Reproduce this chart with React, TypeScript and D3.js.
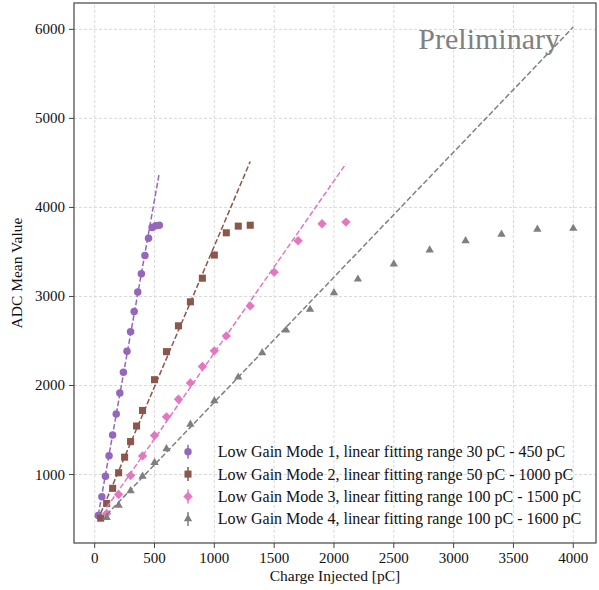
import React from 'react';
import * as d3 from 'd3';

// Low Gain Mode 1..4: injected charge [pC] and ADC mean value
const charge1 = [30, 60, 90, 120, 150, 180, 210, 240, 270, 300, 330, 360, 390, 420, 450, 480, 510, 540];
const adc1 = [540, 750, 980, 1210, 1445, 1680, 1915, 2150, 2385, 2605, 2830, 3050, 3255, 3460, 3655, 3775, 3795, 3800];

const charge2 = [50, 100, 150, 200, 250, 300, 350, 400, 500, 600, 700, 800, 900, 1000, 1100, 1200, 1300];
const adc2 = [510, 675, 845, 1020, 1195, 1370, 1545, 1720, 2065, 2380, 2670, 2940, 3205, 3465, 3715, 3790, 3800];

const charge3 = [100, 200, 300, 400, 500, 600, 700, 800, 900, 1000, 1100, 1300, 1500, 1700, 1900, 2100];
const adc3 = [562, 775, 989, 1209, 1438, 1648, 1846, 2029, 2213, 2389, 2557, 2894, 3273, 3625, 3816, 3835];

const charge4 = [100, 200, 300, 400, 500, 600, 800, 1000, 1200, 1400, 1600, 1800, 2000, 2200, 2500, 2800, 3100, 3400, 3700, 4000];
const adc4 = [517, 655, 816, 981, 1135, 1288, 1565, 1827, 2093, 2366, 2621, 2854, 3040, 3194, 3363, 3520, 3625, 3697, 3753, 3764];

// linear fitting ranges [pC]
const fitRanges = [[30, 450], [50, 1000], [100, 1500], [100, 1600]];

const labels = [
  'Low Gain Mode 1, linear fitting range 30 pC - 450 pC',
  'Low Gain Mode 2, linear fitting range 50 pC - 1000 pC',
  'Low Gain Mode 3, linear fitting range 100 pC - 1500 pC',
  'Low Gain Mode 4, linear fitting range 100 pC - 1600 pC',
];

const xTicks = [0, 500, 1000, 1500, 2000, 2500, 3000, 3500, 4000];
const yTicks = [1000, 2000, 3000, 4000, 5000, 6000];

const colors = ['#9467bd', '#8c564b', '#e377c2', '#7f7f7f'];

const W = 599, H = 590;
const margin = { left: 74, right: 3, top: 3, bottom: 47 };
const font = '"Liberation Serif", "Times New Roman", serif';

// least squares over the fitting range
function linFit(xs: number[], ys: number[], lo: number, hi: number) {
  const pts = xs.map((x, i) => [x, ys[i]]).filter(p => p[0] >= lo && p[0] <= hi);
  const mx = d3.mean(pts, p => p[0])!;
  const my = d3.mean(pts, p => p[1])!;
  const sxy = d3.sum(pts, p => (p[0] - mx) * (p[1] - my));
  const sxx = d3.sum(pts, p => (p[0] - mx) ** 2);
  const m = sxy / sxx;
  return { m, b: my - m * mx };
}

const App = () => {
  const x = d3.scaleLinear().domain([-173, 4190]).range([margin.left, W - margin.right]);
  const y = d3.scaleLinear().domain([231, 6296]).range([H - margin.bottom, margin.top]);

  const series = [
    { xs: charge1, ys: adc1 },
    { xs: charge2, ys: adc2 },
    { xs: charge3, ys: adc3 },
    { xs: charge4, ys: adc4 },
  ];

  const symbols = [
    d3.symbol(d3.symbolCircle, 44)(),
    d3.symbol(d3.symbolSquare, 50)(),
    d3.symbol(d3.symbolSquare, 44)(),
    d3.symbol(d3.symbolTriangle, 30)(),
  ];
  const rot = [0, 0, 45, 0];

  const line = d3.line<number[]>().x(d => x(d[0])).y(d => y(d[1]));

  const x0 = margin.left, x1 = W - margin.right;
  const y0 = H - margin.bottom, y1 = margin.top;

  return (
    <svg width={W} height={H} style={{ position: 'absolute', left: 0, top: 0, background: '#fff' }}
      fontFamily={font}>
      {/* grid */}
      <g stroke="#cfcfcf" strokeWidth={0.8} strokeDasharray="3,2">
        {xTicks.map(t => <line key={'gx' + t} x1={x(t)} x2={x(t)} y1={y0} y2={y1} />)}
        {yTicks.map(t => <line key={'gy' + t} x1={x0} x2={x1} y1={y(t)} y2={y(t)} />)}
      </g>

      {/* markers */}
      {series.map((s, i) => (
        <g key={'m' + i} fill={colors[i]}>
          {s.xs.map((cx, j) => (
            <path key={j} d={symbols[i]!}
              transform={`translate(${x(cx)},${y(s.ys[j])}) rotate(${rot[i]})`} />
          ))}
        </g>
      ))}

      {/* fit lines */}
      {series.map((s, i) => {
        const f = linFit(s.xs, s.ys, fitRanges[i][0], fitRanges[i][1]);
        const lo = d3.min(s.xs)!, hi = d3.max(s.xs)!;
        return (
          <path key={'f' + i} d={line([[lo, f.m * lo + f.b], [hi, f.m * hi + f.b]])!}
            fill="none" stroke={colors[i]} strokeWidth={1.5} strokeDasharray="5.5,2.4" />
        );
      })}

      {/* frame */}
      <rect x={x0} y={y1} width={x1 - x0} height={y0 - y1} fill="none" stroke="#444" strokeWidth={1.2} />

      {/* x axis */}
      <g fontSize={15} textAnchor="middle" fill="#111">
        {xTicks.map(t => (
          <g key={'xt' + t}>
            <line x1={x(t)} x2={x(t)} y1={y0} y2={y0 + 5} stroke="#444" strokeWidth={1} />
            <text x={x(t)} y={y0 + 20}>{t}</text>
          </g>
        ))}
      </g>
      <text x={(x0 + x1) / 2} y={581} textAnchor="middle" fontSize={15.5} fill="#111">Charge Injected [pC]</text>

      {/* y axis */}
      <g fontSize={15} textAnchor="end" fill="#111">
        {yTicks.map(t => (
          <g key={'yt' + t}>
            <line x1={x0 - 5} x2={x0} y1={y(t)} y2={y(t)} stroke="#444" strokeWidth={1} />
            <text x={x0 - 9} y={y(t) + 5}>{t}</text>
          </g>
        ))}
      </g>
      <text transform={`translate(22,${(y0 + y1) / 2}) rotate(-90)`} textAnchor="middle" fontSize={15.5} fill="#111">
        ADC Mean Value
      </text>

      {/* watermark */}
      <text x={560} y={49} textAnchor="end" fontSize={30} fill="#808080">Preliminary</text>

      {/* legend */}
      <g>
        {labels.map((lab, i) => {
          const cy = 451.7 + i * 22.4;
          return (
            <g key={'l' + i}>
              <line x1={188} x2={188} y1={cy - 7} y2={cy + 7} stroke={colors[i]} strokeWidth={1.5} />
              <path d={symbols[i]!} fill={colors[i]} transform={`translate(188,${cy}) rotate(${rot[i]})`} />
              <text x={217.7} y={cy + 5.5} fontSize={16} fill="#111">{lab}</text>
            </g>
          );
        })}
      </g>
    </svg>
  );
};

export default App;
